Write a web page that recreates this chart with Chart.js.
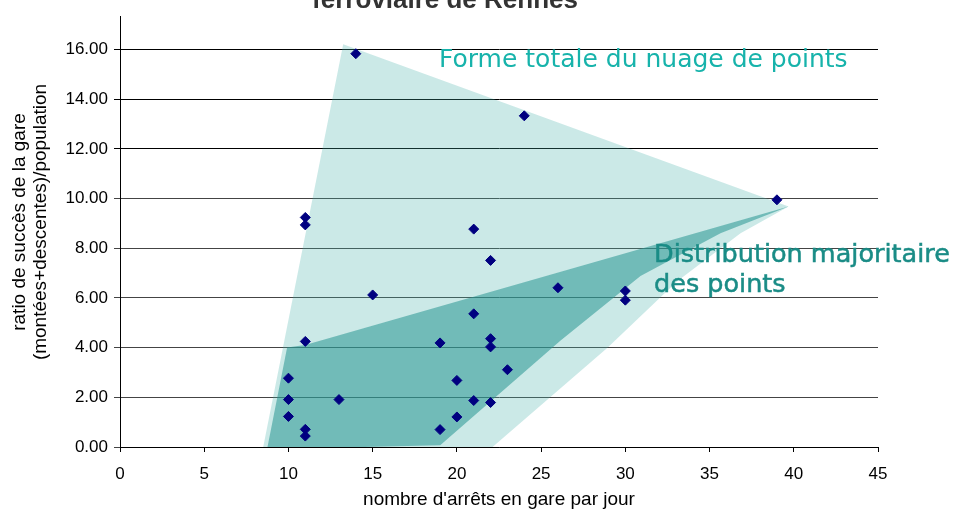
<!DOCTYPE html>
<html>
<head>
<meta charset="utf-8">
<script src="https://cdn.jsdelivr.net/npm/chart.js@4.4.1/dist/chart.umd.min.js"></script>
<style>
  html, body { margin: 0; padding: 0; background: #fff; }
  #wrap { width: 959px; height: 514px; }
</style>
</head>
<body>
<div id="wrap"><canvas id="nuage" width="959" height="514"></canvas></div>
<script>
// nuage de points : arrêts par jour / ratio de succès
const arrets = [14, 24, 39, 11, 11, 21, 22, 15, 26, 30, 30, 21, 11, 19, 22, 22, 10, 20, 23, 10, 13, 21, 22, 10, 20, 11, 11, 19];
const ratios = [15.83, 13.33, 9.95, 9.24, 8.94, 8.77, 7.51, 6.12, 6.41, 6.28, 5.91, 5.36, 4.25, 4.19, 4.36, 4.03, 2.77, 2.68, 3.11, 1.91, 1.91, 1.87, 1.79, 1.23, 1.21, 0.71, 0.44, 0.7];

// contour "Forme totale du nuage de points"
const formeX = [13.25, 39.69, 36.84, 33.1, 28.94, 21.69, 8.44];
const formeY = [16.21, 9.68, 8.6, 6.68, 3.99, -0.25, -0.21];

// contour "Distribution majoritaire des points"
const majX = [10.99, 39.69, 35.65, 30.9, 26.14, 19.01, 8.73, 9.92];
const majY = [4.11, 9.68, 8.6, 6.88, 4.28, 0.07, -0.09, 4.0];

const xTicks = [0, 5, 10, 15, 20, 25, 30, 35, 40, 45];
const yTicks = [0, 2, 4, 6, 8, 10, 12, 14, 16];

const toPoints = (xs, ys) => xs.map((x, i) => ({ x: x, y: ys[i] }));

// textes dessinés sur le graphique
const textes = {
  id: "textes",
  afterDraw(chart) {
    const ctx = chart.ctx;
    ctx.save();
    // titre (coupé en haut)
    ctx.fillStyle = "#333";
    ctx.font = "bold 26px Arial";
    ctx.textAlign = "center";
    ctx.textBaseline = "alphabetic";
    ctx.fillText("ferroviaire de Rennes", 445, 8);

    // titre de l'axe vertical, deux lignes
    ctx.fillStyle = "#000";
    ctx.font = "19px Arial";
    ctx.textBaseline = "middle";
    [["ratio de succès de la gare", 20], ["(montées+descentes)/population", 41]].forEach(([t, x]) => {
      ctx.save();
      ctx.translate(x, 222);
      ctx.rotate(-Math.PI / 2);
      ctx.fillText(t, 0, 0);
      ctx.restore();
    });

    // étiquettes des zones
    ctx.textAlign = "left";
    ctx.textBaseline = "alphabetic";
    ctx.font = "25px 'DejaVu Sans'";
    ctx.fillStyle = "#17B3AB";
    ctx.fillText("Forme totale du nuage de points", 439, 67);

    ctx.font = "25.5px 'DejaVu Sans'";
    ctx.fillStyle = "#1A8C86";
    ctx.strokeStyle = "#1A8C86";
    ctx.lineWidth = 0.5;
    ctx.fillText("Distribution majoritaire", 654, 262);
    ctx.strokeText("Distribution majoritaire", 654, 262);
    ctx.fillText("des points", 654, 292);
    ctx.strokeText("des points", 654, 292);
    ctx.restore();
  },
};

const ctx = document.getElementById("nuage").getContext("2d");
new Chart(ctx, {
  type: "scatter",
  data: {
    datasets: [
      {
        label: "gares",
        data: toPoints(arrets, ratios),
        pointStyle: "rectRot",
        pointRadius: 5,
        borderWidth: 1,
        backgroundColor: "#000080",
        borderColor: "#000080",
      },
      {
        label: "majoritaire",
        data: toPoints(majX, majY),
        showLine: true,
        fill: "shape",
        backgroundColor: "rgba(40,150,145,0.55)",
        borderColor: "rgba(0,0,0,0)",
        borderWidth: 0,
        pointRadius: 0,
        tension: 0,
      },
      {
        label: "forme totale",
        data: toPoints(formeX, formeY),
        showLine: true,
        fill: "shape",
        backgroundColor: "rgba(70,175,170,0.28)",
        borderColor: "rgba(0,0,0,0)",
        borderWidth: 0,
        pointRadius: 0,
        tension: 0,
      },
    ],
  },
  options: {
    responsive: false,
    animation: false,
    events: [],
    layout: { padding: { top: 14, right: 81, left: 0, bottom: 0 } },
    plugins: {
      legend: { display: false },
      tooltip: { enabled: false },
    },
    scales: {
      x: {
        type: "linear",
        min: 0,
        max: 45,
        afterBuildTicks: (scale) => {
          scale.ticks = xTicks.map((v) => ({ value: v }));
        },
        afterFit: (scale) => {
          scale.height = 67;
        },
        grid: { drawOnChartArea: false, tickLength: 5, color: "#000" },
        border: { color: "#000" },
        ticks: { color: "#000", font: { family: "Arial", size: 17 }, padding: 12 },
        title: {
          display: true,
          text: "nombre d'arrêts en gare par jour",
          color: "#000",
          font: { family: "Arial", size: 19 },
          padding: { top: 0, bottom: 3 },
        },
      },
      y: {
        min: 0,
        max: 17.34,
        afterBuildTicks: (scale) => {
          scale.ticks = yTicks.map((v) => ({ value: v }));
        },
        afterFit: (scale) => {
          scale.width = 120;
        },
        grid: {
          tickLength: 6,
          color: (c) => (c.tick && c.tick.value >= 12 ? "#000" : "#444"),
        },
        border: { color: "#000" },
        ticks: {
          color: "#000",
          font: { family: "Arial", size: 17 },
          padding: 6,
          callback: (v) => v.toFixed(2),
        },
      },
    },
  },
  plugins: [textes],
});
</script>
</body>
</html>
